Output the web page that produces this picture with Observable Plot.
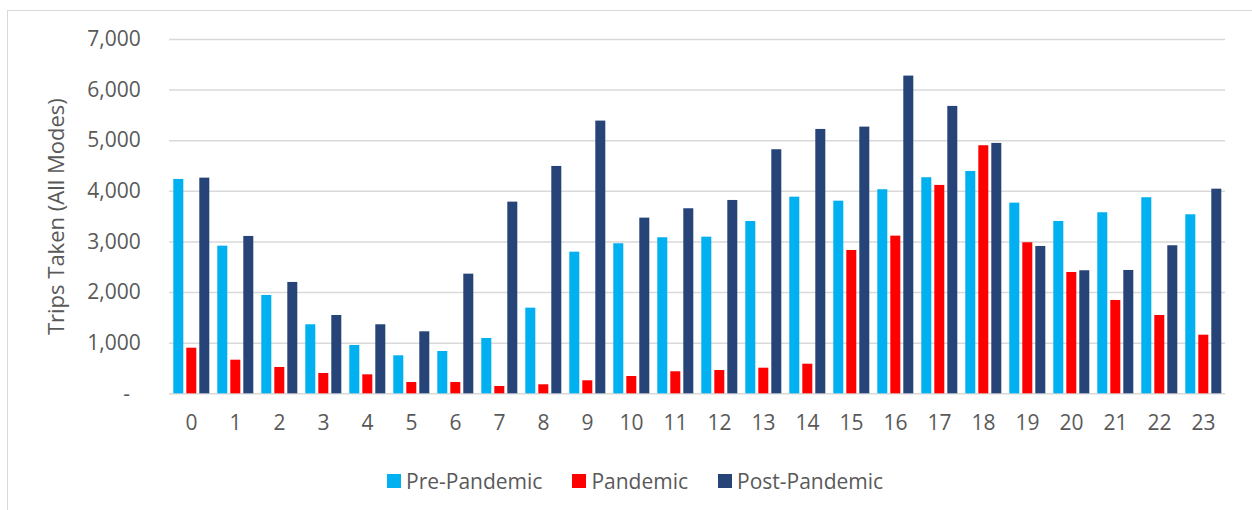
<!DOCTYPE html>
<html><head><meta charset="utf-8">
<script src="https://cdn.jsdelivr.net/npm/d3@7"></script>
<script src="https://cdn.jsdelivr.net/npm/@observablehq/plot@0.6"></script>
<style>
body{margin:0;background:#fff;font-family:"Open Sans",sans-serif;}
#frame{position:absolute;left:7px;top:10px;width:1260px;height:520px;border:1.3px solid #d9d9d9;box-sizing:border-box;}
#chart{position:absolute;left:0;top:0;}
#legend{position:absolute;left:387px;top:464px;}
.lg-swatch{margin-right:30px !important;}
.lg-swatch svg{margin-right:5px !important;}
</style></head><body>
<div id="frame"></div><div id="chart"></div><div id="legend"></div>
<script>
const hours=[0,1,2,3,4,5,6,7,8,9,10,11,12,13,14,15,16,17,18,19,20,21,22,23];
const seriesNames=["Pre-Pandemic","Pandemic","Post-Pandemic"];
const prePandemic=[4235,2917,1943,1364,955,751,836,1093,1692,2798,2964,3083,3095,3405,3885,3806,4032,4269,4393,3767,3405,3577,3874,3537];
const pandemic=[901,664,520,401,375,223,223,144,178,257,342,435,460,506,585,2832,3115,4117,4901,2984,2397,1844,1547,1158];
const postPandemic=[4261,3109,2200,1547,1364,1225,2364,3787,4492,5388,3471,3656,3820,4822,5223,5269,6277,5678,4947,2911,2431,2437,2925,4043];
const seriesColors=["#00B0F0","#FF0000","#264478"];
const yTicks=[0,1000,2000,3000,4000,5000,6000,7000];
const yLabel="Trips Taken (All Modes)";

const seriesValues=[prePandemic,pandemic,postPandemic];
const data=hours.flatMap((h,i)=>seriesNames.map((s,j)=>({hour:h,series:s,value:seriesValues[j][i]})));

const chart=Plot.plot({
  width:1252,height:440,
  marginLeft:168.7,marginRight:27,marginTop:39,marginBottom:46.7,
  style:{fontFamily:'"Open Sans", sans-serif',fontSize:"21px",color:"#595959",background:"transparent",overflow:"visible"},
  fx:{domain:hours,padding:0,label:null,tickSize:0,tickPadding:21},
  x:{domain:seriesNames,paddingInner:0.2,paddingOuter:0.28,axis:null},
  y:{domain:[0,7000]},
  color:{domain:seriesNames,range:seriesColors},
  marks:[
    Plot.ruleY(yTicks,{stroke:"#d9d9d9",strokeWidth:1.5}),
    Plot.barY(data,{fx:"hour",x:"series",y:"value",fill:"series"}),
    Plot.axisY({ticks:yTicks,tickSize:0,tickPadding:28.7,
      tickFormat:d=>d===0?"-\u00a0\u00a0":d3.format(",")(d),label:null}),
    Plot.axisY({ticks:[],tickSize:0,label:yLabel,labelAnchor:"center",labelOffset:121,labelArrow:"none",fontSize:22})
  ]
});
document.getElementById("chart").appendChild(chart);

const legend=Plot.legend({
  color:{domain:seriesNames,range:seriesColors,type:"categorical"},
  legend:"swatches",swatchSize:14,className:"lg",
  style:{fontFamily:'"Open Sans", sans-serif',fontSize:"21px",color:"#595959"}
});
document.getElementById("legend").appendChild(legend);
</script>
</body></html>
